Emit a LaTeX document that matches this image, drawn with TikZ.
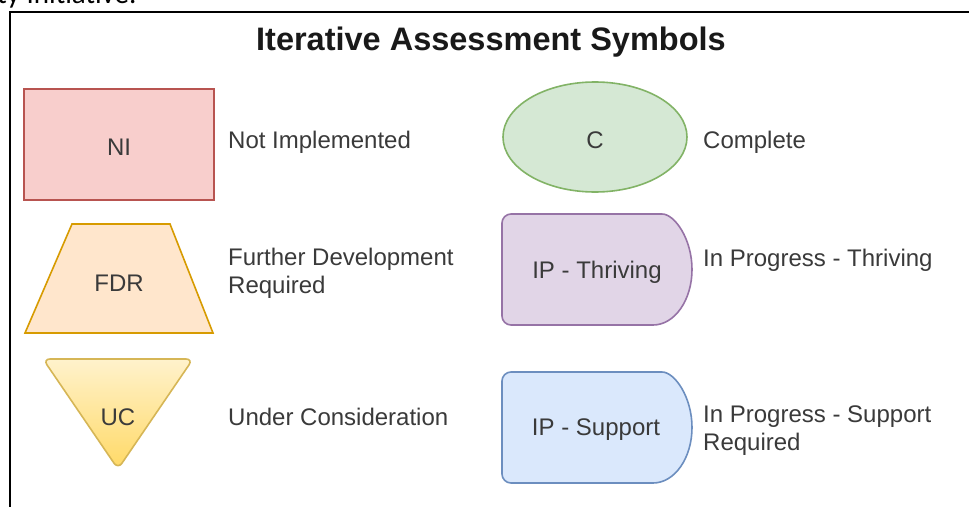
\documentclass[tikz,border=0pt]{standalone}
\usepackage{fontspec}
\setmainfont{Liberation Sans}
\newfontfamily\docfont{Carlito}
\definecolor{txt}{HTML}{3A3A3A}
\definecolor{redfill}{HTML}{F8CECC}\definecolor{redline}{HTML}{B85450}
\definecolor{orfill}{HTML}{FFE6CC}\definecolor{orline}{HTML}{D79B00}
\definecolor{yelA}{HTML}{FFF2CC}\definecolor{yelB}{HTML}{FFD966}\definecolor{yelline}{HTML}{D6B656}
\definecolor{grfill}{HTML}{D5E8D4}\definecolor{grline}{HTML}{82B366}
\definecolor{pufill}{HTML}{E1D5E7}\definecolor{puline}{HTML}{9673A6}
\definecolor{blfill}{HTML}{DAE8FC}\definecolor{blline}{HTML}{6C8EBF}
\tikzset{
  shapeline/.style={line width=1.6pt},
  lbl/.style={text=txt,font=\fontsize{24}{27.5}\selectfont,inner sep=0pt,anchor=base},
  desc/.style={text=txt,font=\fontsize{24}{27.5}\selectfont,inner sep=0pt,anchor=base west,align=left},
}
\begin{document}
\begin{tikzpicture}[x=1pt,y=-1pt]
\useasboundingbox (0,0) rectangle (969,506);
\clip (0,0) rectangle (969,506);
\fill[white] (0,0) rectangle (969,506);
% cut-off document text
\node[anchor=base west,inner sep=0pt,font=\docfont\fontsize{29}{32}\selectfont] (doc) at (-3,4) {ty Initiative.};
% frame
\coordinate (fbl) at (10,510);
\coordinate (ftl) at (10,12);
\coordinate (ftr) at (975,12);
\draw[line width=1.3pt] (fbl) -- (ftl) -- (ftr);
% title
\node[anchor=base,inner sep=0pt,font=\bfseries\fontsize{32.5}{36}\selectfont,text=black!90] (title) at (491,50) {Iterative Assessment Symbols};
% NI
\draw[shapeline,draw=redline,fill=redfill] (24,89) rectangle (214,200);
\node[lbl] (ni) at (119,155) {NI};
\node[desc] (nid) at (228,148) {Not Implemented};
% FDR
\draw[shapeline,draw=orline,fill=orfill] (72,224) -- (170,224) -- (213,333) -- (25,333) -- cycle;
\node[lbl] (fdr) at (119,291) {FDR};
\node[desc] (fdrd) at (228,293) {Further Development\\Required};
% UC
\draw[shapeline,draw=yelline,top color=yelA,bottom color=yelB,rounded corners=7pt] (43,359) -- (193,359) -- (118,469) -- cycle;
\node[lbl] (uc) at (118,425) {UC};
\node[desc] (ucd) at (228,425) {Under Consideration};
% C
\draw[shapeline,draw=grline,fill=grfill] (595,137) ellipse[x radius=92,y radius=55];
\node[lbl] (c) at (595,148) {C};
\node[desc] (cd) at (703,148) {Complete};
% IP Thriving
\draw[shapeline,draw=puline,fill=pufill,rounded corners=9pt] (578,214) -- (653,214) {[sharp corners] arc[start angle=-90,end angle=90,x radius=39,y radius=55.5]} -- (502,325) -- (502,214) -- cycle;
\node[lbl] (ipt) at (597,278) {IP - Thriving};
\node[desc] (iptd) at (703,266) {In Progress - Thriving};
% IP Support
\draw[shapeline,draw=blline,fill=blfill,rounded corners=9pt] (578,372) -- (653,372) {[sharp corners] arc[start angle=-90,end angle=90,x radius=39,y radius=55.5]} -- (502,483) -- (502,372) -- cycle;
\node[lbl] (ips) at (596,435) {IP - Support};
\node[desc] (ipsd) at (703,450) {In Progress - Support\\Required};
\end{tikzpicture}
\end{document}
